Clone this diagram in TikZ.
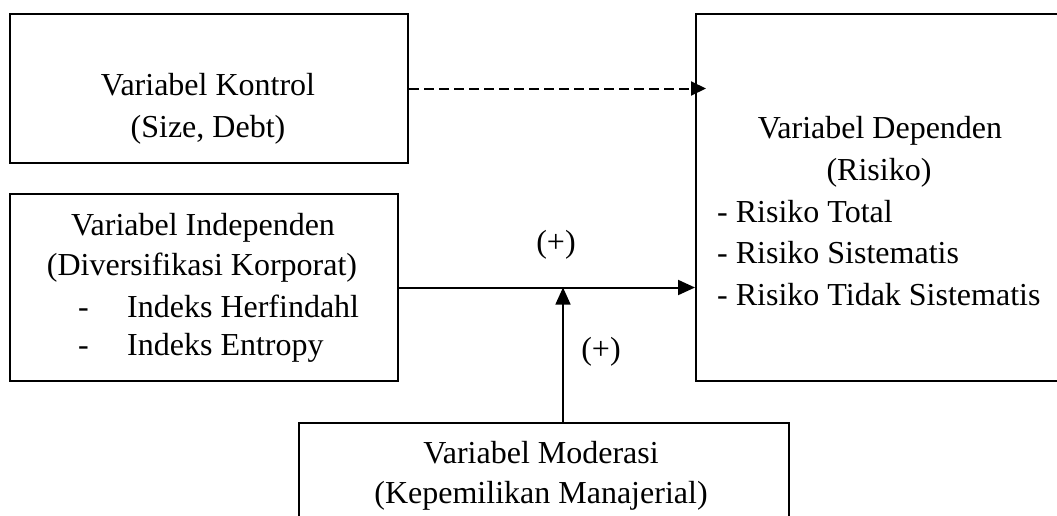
\documentclass[tikz,border=0pt]{standalone}
\usepackage{fontspec}
\setmainfont{Liberation Serif}
\usetikzlibrary{arrows.meta}
\begin{document}
\begin{tikzpicture}[x=1pt,y=-1pt,
  box/.style={draw, line width=2pt, rectangle, inner sep=0pt, anchor=north west},
  txt/.style={anchor=base, inner sep=0pt, font=\fontsize{32}{42}\selectfont},
  txtl/.style={anchor=base west, inner sep=0pt, font=\fontsize{32}{42}\selectfont},
  conn/.style={line width=2pt, -{Triangle[length=17pt,width=15pt]}},
  vconn/.style={line width=1.6pt, -{Triangle[length=17pt,width=15pt]}},
  dconn/.style={line width=2pt, dash pattern=on 10pt off 5pt, -{Triangle[length=15pt,width=14pt]}}]
\useasboundingbox (0,0) rectangle (1057,515);
\clip (0,0) rectangle (1057,515);
% boxes
\node[box, minimum width=398pt, minimum height=149pt] (kon) at (9,13) {};
\node[box, minimum width=388pt, minimum height=187pt] (ind) at (9,193) {};
\node[box, minimum width=380pt, minimum height=367pt] (dep) at (695,13) {};
\node[box, minimum width=490pt, minimum height=120pt] (mod) at (298,422) {};
% texts
\node[txt] (k1) at (208,95) {Variabel Kontrol};
\node[txt] (k2) at (208,137) {(Size, Debt)};
\node[txt] (i1) at (203,235) {Variabel Independen};
\node[txt] (i2) at (202,275) {(Diversifikasi Korporat)};
\node[txtl] (i3a) at (78,317) {-};
\node[txtl] (i3) at (127,317) {Indeks Herfindahl};
\node[txtl] (i4a) at (78,355) {-};
\node[txtl] (i4) at (127,355) {Indeks Entropy};
\node[txt] (d1) at (880,138) {Variabel Dependen};
\node[txt] (d2) at (879,180) {(Risiko)};
\node[txtl] (d3) at (717,222) {- Risiko Total};
\node[txtl] (d4) at (717,263) {- Risiko Sistematis};
\node[txtl] (d5) at (717,305) {- Risiko Tidak Sistematis};
\node[txt] (m1) at (541,463) {Variabel Moderasi};
\node[txt] (m2) at (541,503) {(Kepemilikan Manajerial)};
\node[txt] (p1) at (556,252) {(+)};
\node[txt] (p2) at (601,359) {(+)};
% connectors
\draw[dconn] (kon.east) -- ([xshift=11pt]kon.east -| dep.west);
\draw[conn] (ind.east) -- (ind.east -| dep.west);
\coordinate (mtop) at ([xshift=19pt]mod.north);
\draw[vconn] (mtop) -- (mtop |- ind.east);
\end{tikzpicture}
\end{document}
